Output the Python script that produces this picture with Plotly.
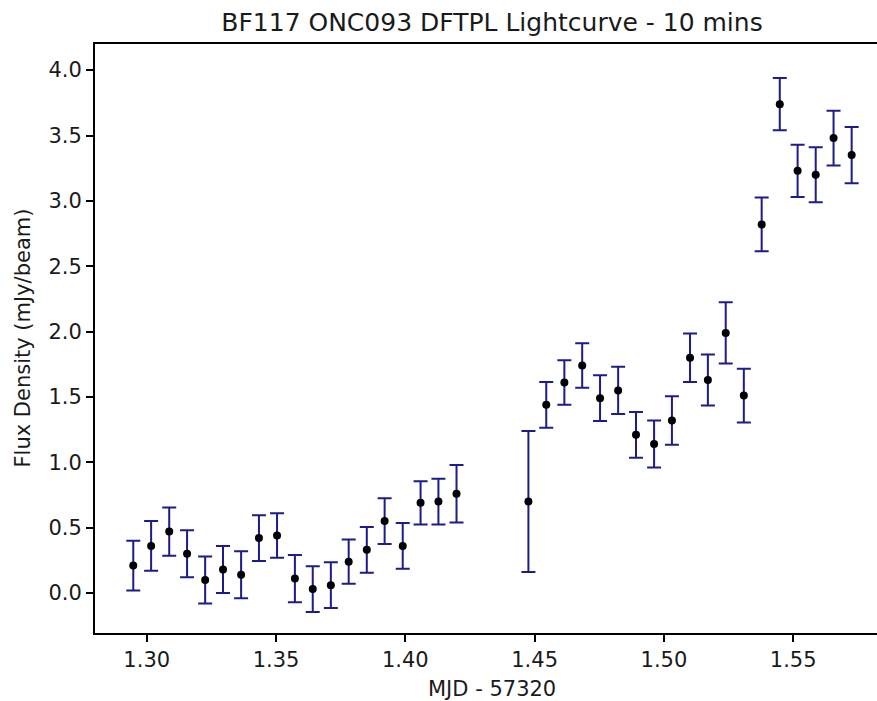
import plotly.graph_objects as go

# Time (MJD - 57320), 10-minute bins
mjd = [1.2948, 1.3017, 1.3087, 1.3156, 1.3226, 1.3295, 1.3365, 1.3434, 1.3504, 1.3573,
       1.3642, 1.3712, 1.3781, 1.3851, 1.3920, 1.3990, 1.4059, 1.4128, 1.4198,
       1.4476, 1.4545, 1.4615, 1.4684, 1.4753, 1.4823, 1.4892, 1.4962, 1.5031, 1.5101,
       1.5170, 1.5239, 1.5309, 1.5378, 1.5448, 1.5517, 1.5587, 1.5656, 1.5726]

flux = [0.21, 0.36, 0.47, 0.30, 0.10, 0.18, 0.14, 0.42, 0.44, 0.11,
        0.03, 0.06, 0.24, 0.33, 0.55, 0.36, 0.69, 0.70, 0.76,
        0.70, 1.44, 1.61, 1.74, 1.49, 1.55, 1.21, 1.14, 1.32, 1.80,
        1.63, 1.99, 1.51, 2.82, 3.74, 3.23, 3.20, 3.48, 3.35]

flux_err = [0.19, 0.19, 0.185, 0.18, 0.18, 0.18, 0.18, 0.175, 0.17, 0.18,
            0.175, 0.175, 0.17, 0.175, 0.175, 0.175, 0.165, 0.175, 0.22,
            0.54, 0.175, 0.17, 0.17, 0.175, 0.18, 0.175, 0.18, 0.185, 0.185,
            0.195, 0.235, 0.205, 0.205, 0.20, 0.20, 0.21, 0.21, 0.215]

x_ticks = [1.30, 1.35, 1.40, 1.45, 1.50, 1.55]
y_ticks = [0.0, 0.5, 1.0, 1.5, 2.0, 2.5, 3.0, 3.5, 4.0]

title_text = "BF117 ONC093 DFTPL Lightcurve - 10 mins"
x_label = "MJD - 57320"
y_label = "Flux Density (mJy/beam)"

FONT = "DejaVu Sans"
W, H = 877, 701
L, R, T, B = 95, 0, 44, 68
pw = W - L - R
ph = H - T - B

fig = go.Figure()
fig.add_trace(go.Scatter(
    x=mjd, y=flux, mode="markers",
    marker=dict(color="black", size=8),
    error_y=dict(type="data", array=flux_err, visible=True,
                 color="#1c1c8a", thickness=2, width=7),
    showlegend=False,
))

fig.update_layout(
    width=W, height=H,
    margin=dict(l=L, r=R, t=T, b=B, pad=0),
    paper_bgcolor="white", plot_bgcolor="white",
    font=dict(family=FONT, size=21, color="#1a1a1a"),
    title=dict(text=title_text, font=dict(family=FONT, size=25, color="#1a1a1a"),
               xref="container", x=492 / W, xanchor="center",
               yref="container", y=1 - 22 / H, yanchor="middle"),
    xaxis=dict(range=[1.2800, 1.5824], tickvals=x_ticks,
               ticktext=[f"{v:.2f}" for v in x_ticks],
               showgrid=False, zeroline=False,
               showline=True, linecolor="black", linewidth=1.8, mirror=True,
               ticks="outside", ticklen=7, tickwidth=1.5, tickcolor="black",
               tickfont=dict(family=FONT, size=21, color="#1a1a1a")),
    yaxis=dict(range=[-0.306, 4.200], tickvals=y_ticks,
               ticktext=[f"{v:.1f}" for v in y_ticks],
               showgrid=False, zeroline=False,
               showline=True, linecolor="black", linewidth=1.8, mirror=False,
               ticks="outside", ticklen=7, tickwidth=1.5, tickcolor="black",
               tickfont=dict(family=FONT, size=21, color="#1a1a1a")),
)

fig.add_annotation(text=x_label, xref="paper", yref="paper",
                   x=(492 - L) / pw, y=-(689 - (T + ph)) / ph,
                   xanchor="center", yanchor="middle", showarrow=False,
                   font=dict(family=FONT, size=21, color="#1a1a1a"))
fig.add_annotation(text=y_label, xref="paper", yref="paper",
                   x=(22 - L) / pw, y=0.5, textangle=-90,
                   xanchor="center", yanchor="middle", showarrow=False,
                   font=dict(family=FONT, size=21, color="#1a1a1a"))

fig.write_html("out.html")
